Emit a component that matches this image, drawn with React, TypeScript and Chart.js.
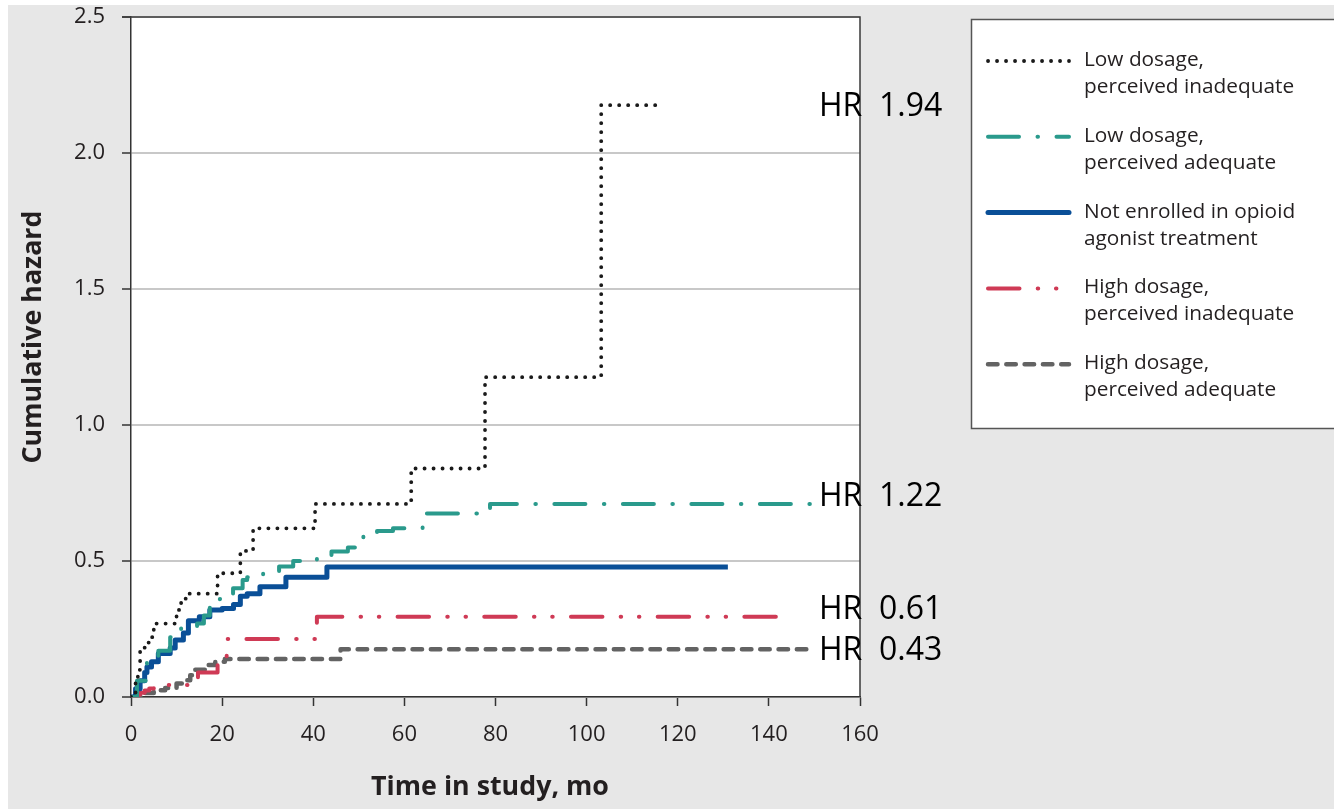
import React, { useEffect, useRef } from 'react';
import { Chart, registerables } from 'chart.js';

Chart.register(...registerables);

// ---- Data ----
const xTickValues = [0, 20, 40, 60, 80, 100, 120, 140, 160];
const yTickValues = [0, 0.5, 1.0, 1.5, 2.0, 2.5];

const lowInadT = [0, 1, 1.5, 2, 3, 4, 5, 10, 11, 12, 19, 24, 26.8, 40.4, 61.5, 77.7, 103.2, 117];
const lowInadV = [0, 0.06, 0.1, 0.17, 0.2, 0.22, 0.27, 0.32, 0.35, 0.38, 0.455, 0.537, 0.62, 0.71, 0.84, 1.176, 2.176, 2.176];

const lowAdeqT = [0, 1.3, 3.5, 6, 8.6, 11, 14.5, 16, 17.3, 19.5, 22.4, 24.5, 25.5, 29, 32.5, 35.6, 40.8, 44, 47.6, 50, 51, 54, 57.5, 64, 78.8, 150];
const lowAdeqV = [0, 0.06, 0.13, 0.17, 0.22, 0.26, 0.27, 0.3, 0.33, 0.36, 0.4, 0.43, 0.44, 0.455, 0.48, 0.5, 0.51, 0.535, 0.55, 0.57, 0.59, 0.61, 0.62, 0.675, 0.71, 0.71];

const notEnrolledT = [0, 1, 2, 3, 3.5, 4.5, 6, 8.6, 9.7, 11.5, 12.6, 15, 17.3, 20, 22.5, 24, 25.5, 28.3, 34, 43, 131];
const notEnrolledV = [0, 0.03, 0.06, 0.09, 0.11, 0.13, 0.16, 0.18, 0.21, 0.235, 0.28, 0.295, 0.32, 0.325, 0.34, 0.37, 0.38, 0.405, 0.44, 0.478, 0.478];

const highInadT = [0, 1, 2, 3, 4, 5, 6.4, 14.7, 19, 21, 40.8, 143];
const highInadV = [0, 0.008, 0.016, 0.024, 0.031, 0.038, 0.044, 0.09, 0.15, 0.213, 0.295, 0.295];

const highAdeqT = [0, 3, 5, 7.5, 10, 11.8, 13, 14, 17, 18.5, 20.6, 46, 148.4];
const highAdeqV = [0, 0.015, 0.025, 0.033, 0.05, 0.062, 0.08, 0.1, 0.118, 0.13, 0.14, 0.176, 0.176];

const seriesNames = [
  ['Low dosage,', 'perceived inadequate'],
  ['Low dosage,', 'perceived adequate'],
  ['Not enrolled in opioid', 'agonist treatment'],
  ['High dosage,', 'perceived inadequate'],
  ['High dosage,', 'perceived adequate'],
];

const hrLabels = ['HR  1.94', 'HR  1.22', 'HR  0.61', 'HR  0.43'];
const hrAtValue = [2.17, 0.735, 0.32, 0.17];

const xTitle = 'Time in study, mo';
const yTitle = 'Cumulative hazard';

const zip = (t: number[], v: number[]) => t.map((x, i) => ({ x, y: v[i] }));

const TEXT = '#231f20';
const FONT = '"Open Sans", "Noto Sans", sans-serif';

const decorPlugin = {
  id: 'decor',
  beforeDraw(chart: any) {
    const { ctx, chartArea } = chart;
    ctx.save();
    ctx.fillStyle = '#e7e7e7';
    ctx.fillRect(8, 5, chart.width - 8, chart.height - 5);
    ctx.fillStyle = '#ffffff';
    ctx.fillRect(chartArea.left, chartArea.top, chartArea.right - chartArea.left, chartArea.bottom - chartArea.top);
    ctx.restore();
  },
  afterDraw(chart: any) {
    const { ctx, chartArea, scales } = chart;
    ctx.save();
    // top & right frame
    ctx.strokeStyle = '#3a3a3a';
    ctx.lineWidth = 1.5;
    ctx.beginPath();
    ctx.moveTo(chartArea.left - 9, chartArea.top);
    ctx.lineTo(chartArea.right, chartArea.top);
    ctx.lineTo(chartArea.right, chartArea.bottom);
    ctx.stroke();

    // axis titles
    ctx.fillStyle = TEXT;
    ctx.font = `bold 26.8px ${FONT}`;
    ctx.textAlign = 'center';
    ctx.textBaseline = 'middle';
    ctx.fillText(xTitle, 490, 787);
    ctx.save();
    ctx.translate(33, 337);
    ctx.rotate(-Math.PI / 2);
    ctx.fillText(yTitle, 0, 0);
    ctx.restore();

    // HR labels
    ctx.fillStyle = '#000';
    ctx.font = `32px ${FONT}`;
    ctx.textAlign = 'left';
    ctx.textBaseline = 'middle';
    hrLabels.forEach((lab, i) => {
      ctx.fillText(lab, 819, scales.y.getPixelForValue(hrAtValue[i]));
    });

    // legend box
    ctx.fillStyle = '#ffffff';
    ctx.strokeStyle = '#555555';
    ctx.lineWidth = 1.5;
    ctx.fillRect(971.5, 19.5, 400, 409);
    ctx.strokeRect(971.5, 19.5, 400, 409);

    chart.data.datasets.forEach((ds: any, i: number) => {
      const y = 61 + i * 75.8;
      ctx.save();
      ctx.strokeStyle = ds.borderColor;
      ctx.lineWidth = ds.borderWidth;
      ctx.lineCap = 'round';
      ctx.setLineDash(ds.borderDash || []);
      ctx.beginPath();
      ctx.moveTo(988, y);
      ctx.lineTo(1069, y);
      ctx.stroke();
      ctx.restore();
      ctx.fillStyle = TEXT;
      ctx.font = `20.8px ${FONT}`;
      ctx.textAlign = 'left';
      ctx.textBaseline = 'alphabetic';
      const lines = seriesNames[i];
      ctx.fillText(lines[0], 1084, y + 5);
      ctx.fillText(lines[1], 1084, y + 32);
    });
    ctx.restore();
  },
};

export default function App() {
  const canvasRef = useRef<HTMLCanvasElement | null>(null);

  useEffect(() => {
    const canvas = canvasRef.current;
    if (!canvas) return;
    const common = { pointRadius: 0, pointHoverRadius: 0, stepped: 'before' as const, fill: false, borderCapStyle: 'round' as const, borderJoinStyle: 'round' as const };
    const chart = new Chart(canvas, {
      type: 'line',
      data: {
        datasets: [
          { ...common, label: seriesNames[0].join(' '), data: zip(lowInadT, lowInadV), borderColor: '#1a1a1a', borderWidth: 3.8, borderDash: [0.1, 8.9] },
          { ...common, label: seriesNames[1].join(' '), data: zip(lowAdeqT, lowAdeqV), borderColor: '#2a9a8c', borderWidth: 4, borderDash: [31, 18.5, 0.5, 18.5] },
          { ...common, label: seriesNames[2].join(' '), data: zip(notEnrolledT, notEnrolledV), borderColor: '#0a4f97', borderWidth: 5, borderDash: [], borderCapStyle: 'butt' as const },
          { ...common, label: seriesNames[3].join(' '), data: zip(highInadT, highInadV), borderColor: '#cf3a55', borderWidth: 4, borderDash: [31.5, 18.2, 0.5, 17.75, 0.5, 18.25] },
          { ...common, label: seriesNames[4].join(' '), data: zip(highAdeqT, highAdeqV), borderColor: '#636363', borderWidth: 4.5, borderDash: [9.5, 8.8] },
        ],
      },
      options: {
        animation: false,
        responsive: false,
        events: [],
        layout: { padding: { left: 11, top: 17, right: 474, bottom: 0 } },
        plugins: { legend: { display: false }, tooltip: { enabled: false }, title: { display: false } },
        scales: {
          x: {
            type: 'linear',
            min: 0,
            max: 160,
            afterFit: (s: any) => { s.height = 112; s.paddingLeft = 0; s.paddingRight = 0; },
            afterBuildTicks: (s: any) => { s.ticks = xTickValues.map((v) => ({ value: v })); },
            ticks: { color: TEXT, font: { family: FONT, size: 22 }, padding: 16, maxRotation: 0 },
            grid: { drawOnChartArea: false, drawTicks: true, tickLength: 9, tickColor: '#333333', tickWidth: 1.5 },
            border: { color: '#333333', width: 1.5 },
          },
          y: {
            type: 'linear',
            min: 0,
            max: 2.5,
            afterFit: (s: any) => { s.width = 120; s.paddingTop = 0; s.paddingBottom = 0; },
            afterBuildTicks: (s: any) => { s.ticks = yTickValues.map((v) => ({ value: v })); },
            ticks: { color: TEXT, font: { family: FONT, size: 22 }, padding: 17, callback: (v: any) => Number(v).toFixed(1) },
            grid: { color: '#c8c8c8', lineWidth: 2, drawTicks: true, tickLength: 9, tickColor: '#333333', tickWidth: 1.5 },
            border: { color: '#333333', width: 1.5 },
          },
        },
      },
      plugins: [decorPlugin],
    });
    return () => chart.destroy();
  }, []);

  return (
    <div style={{ position: 'absolute', left: 0, top: 0, width: 1334, height: 809, background: '#ffffff', overflow: 'hidden' }}>
      <canvas ref={canvasRef} width={1334} height={809} style={{ display: 'block', width: 1334, height: 809 }} />
    </div>
  );
}
